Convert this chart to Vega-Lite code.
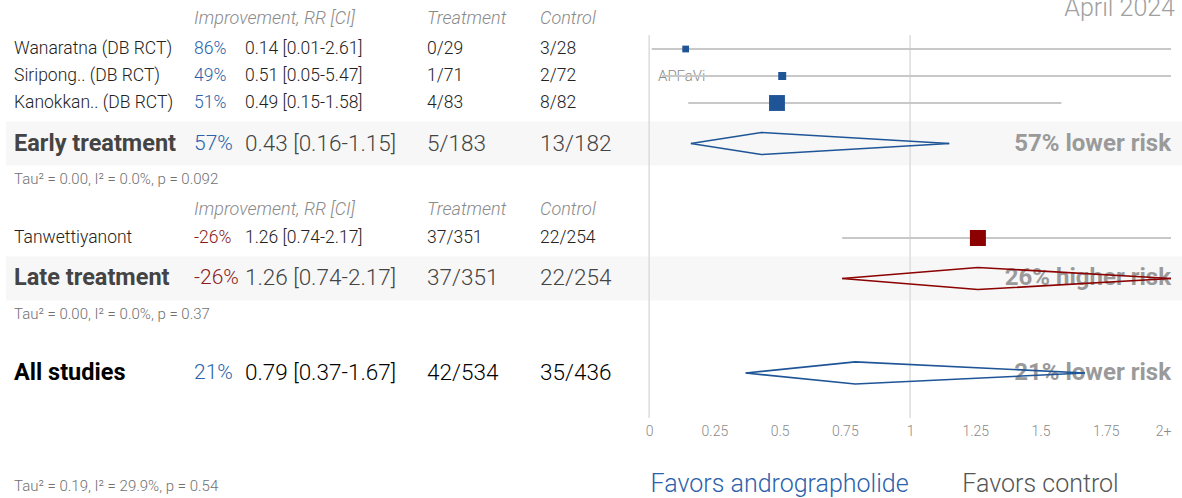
{
  "$schema": "https://vega.github.io/schema/vega-lite/v6.json",
  "width": 1171,
  "height": 498,
  "autosize": {"type": "none"},
  "padding": {"left": 0, "top": 0, "right": 11, "bottom": 0},
  "background": "white",
  "config": {"view": {"stroke": null}, "font": "Roboto", "text": {"font": "Roboto"}},
  "datasets": {
    "studies": [
      {"study": "Wanaratna (DB RCT)", "rr": 0.14, "lo": 0.01, "hi": 2.61, "treatment": "0/29", "control": "3/28", "weight": 12.5, "row": 1},
      {"study": "Siripong.. (DB RCT)", "rr": 0.51, "lo": 0.05, "hi": 5.47, "treatment": "1/71", "control": "2/72", "weight": 17.4, "row": 2},
      {"study": "Kanokkan.. (DB RCT)", "rr": 0.49, "lo": 0.15, "hi": 1.58, "treatment": "4/83", "control": "8/82", "weight": 69.1, "row": 3},
      {"study": "Tanwettiyanont", "rr": 1.26, "lo": 0.74, "hi": 2.17, "treatment": "37/351", "control": "22/254", "weight": 100, "row": 8}
    ],
    "groups": [
      {"group": "Early treatment", "rr": 0.43, "lo": 0.16, "hi": 1.15, "treatment": "5/183", "control": "13/182", "het": "Tau² = 0.00, I² = 0.0%, p = 0.092", "row": 4.5, "hetrow": 5.8},
      {"group": "Late treatment", "rr": 1.26, "lo": 0.74, "hi": 2.17, "treatment": "37/351", "control": "22/254", "het": "Tau² = 0.00, I² = 0.0%, p = 0.37", "row": 9.5, "hetrow": 10.8},
      {"group": "All studies", "rr": 0.79, "lo": 0.37, "hi": 1.67, "treatment": "42/534", "control": "35/436", "het": "Tau² = 0.19, I² = 29.9%, p = 0.54", "row": 13, "hetrow": 17.2}
    ],
    "headers": [
      {"section": "early", "row": -0.1},
      {"section": "late", "row": 6.95}
    ]
  },
  "layer": [
    {
      "description": "shaded bands behind the subgroup summary rows",
      "data": {"name": "groups"},
      "transform": [{"filter": "datum.group !== 'All studies'"}],
      "mark": {"type": "rule", "color": "#f7f7f7", "strokeWidth": 44, "strokeCap": "square"},
      "encoding": {
        "x": {"datum": -2.38, "type": "quantitative", "scale": {"domain": [-2.4877, 2], "nice": false, "zero": false, "clamp": true},
          "axis": {"values": [0, 0.25, 0.5, 0.75, 1, 1.25, 1.5, 1.75, 2], "labelExpr": "datum.value >= 2 ? '2+' : format(datum.value, '~g')", "grid": false, "domain": false, "ticks": false, "labelFont": "Roboto", "labelFontSize": 14, "labelFontWeight": 300, "labelColor": "#8a8a8a", "labelPadding": 6, "offset": -80, "title": null, "labelOverlap": false}},
        "x2": {"datum": 2},
        "y": {"field": "row", "type": "quantitative", "scale": {"domain": [-0.815, 17.63], "nice": false, "zero": false, "reverse": true}, "axis": null}
      }
    },
    {
      "description": "reference lines at RR 0 and RR 1",
      "data": {"values": [{"ref": 0}, {"ref": 1}]},
      "mark": {"type": "rule", "color": "#dcdcdc", "strokeWidth": 1.5},
      "encoding": {
        "x": {"field": "ref", "type": "quantitative", "scale": {"domain": [-2.4877, 2], "nice": false, "zero": false, "clamp": true},
          "axis": {"values": [0, 0.25, 0.5, 0.75, 1, 1.25, 1.5, 1.75, 2], "labelExpr": "datum.value >= 2 ? '2+' : format(datum.value, '~g')", "grid": false, "domain": false, "ticks": false, "labelFont": "Roboto", "labelFontSize": 14, "labelFontWeight": 300, "labelColor": "#8a8a8a", "labelPadding": 6, "offset": -80, "title": null, "labelOverlap": false}},
        "y": {"datum": 0.48, "type": "quantitative", "scale": {"domain": [-0.815, 17.63], "nice": false, "zero": false, "reverse": true}, "axis": null},
        "y2": {"datum": 14.67}
      }
    },
    {
      "description": "column headers",
      "data": {"name": "headers"},
      "encoding": {
        "y": {"field": "row", "type": "quantitative", "scale": {"domain": [-0.815, 17.63], "nice": false, "zero": false, "reverse": true}, "axis": null}
      },
      "layer": [
        {"mark": {"type": "text", "align": "left", "baseline": "middle", "fontSize": 18, "fontStyle": "italic", "fontWeight": 300, "color": "#8a8a8a"},
          "encoding": {"x": {"datum": -1.744, "type": "quantitative", "scale": {"domain": [-2.4877, 2], "nice": false, "zero": false, "clamp": true}, "axis": {"values": [0, 0.25, 0.5, 0.75, 1, 1.25, 1.5, 1.75, 2], "labelExpr": "datum.value >= 2 ? '2+' : format(datum.value, '~g')", "grid": false, "domain": false, "ticks": false, "labelFont": "Roboto", "labelFontSize": 14, "labelFontWeight": 300, "labelColor": "#8a8a8a", "labelPadding": 6, "offset": -80, "title": null, "labelOverlap": false}}, "text": {"value": "Improvement, RR [CI]"}}},
        {"mark": {"type": "text", "align": "left", "baseline": "middle", "fontSize": 18, "fontStyle": "italic", "fontWeight": 300, "color": "#8a8a8a"},
          "encoding": {"x": {"datum": -0.851, "type": "quantitative", "scale": {"domain": [-2.4877, 2], "nice": false, "zero": false, "clamp": true}, "axis": {"values": [0, 0.25, 0.5, 0.75, 1, 1.25, 1.5, 1.75, 2], "labelExpr": "datum.value >= 2 ? '2+' : format(datum.value, '~g')", "grid": false, "domain": false, "ticks": false, "labelFont": "Roboto", "labelFontSize": 14, "labelFontWeight": 300, "labelColor": "#8a8a8a", "labelPadding": 6, "offset": -80, "title": null, "labelOverlap": false}}, "text": {"value": "Treatment"}}},
        {"mark": {"type": "text", "align": "left", "baseline": "middle", "fontSize": 18, "fontStyle": "italic", "fontWeight": 300, "color": "#8a8a8a"},
          "encoding": {"x": {"datum": -0.418, "type": "quantitative", "scale": {"domain": [-2.4877, 2], "nice": false, "zero": false, "clamp": true}, "axis": {"values": [0, 0.25, 0.5, 0.75, 1, 1.25, 1.5, 1.75, 2], "labelExpr": "datum.value >= 2 ? '2+' : format(datum.value, '~g')", "grid": false, "domain": false, "ticks": false, "labelFont": "Roboto", "labelFontSize": 14, "labelFontWeight": 300, "labelColor": "#8a8a8a", "labelPadding": 6, "offset": -80, "title": null, "labelOverlap": false}}, "text": {"value": "Control"}}}
      ]
    },
    {
      "description": "study table rows",
      "data": {"name": "studies"},
      "transform": [
        {"calculate": "'' + round((1 - datum.rr) * 100) + '%'", "as": "improvement"},
        {"calculate": "format(datum.rr, '.2f') + ' [' + format(datum.lo, '.2f') + '-' + format(datum.hi, '.2f') + ']'", "as": "rrci"}
      ],
      "encoding": {
        "y": {"field": "row", "type": "quantitative", "scale": {"domain": [-0.815, 17.63], "nice": false, "zero": false, "reverse": true}, "axis": null}
      },
      "layer": [
        {"mark": {"type": "text", "align": "left", "baseline": "middle", "fontSize": 17.5, "fontWeight": 300, "color": "#222"},
          "encoding": {"x": {"datum": -2.434, "type": "quantitative", "scale": {"domain": [-2.4877, 2], "nice": false, "zero": false, "clamp": true}, "axis": {"values": [0, 0.25, 0.5, 0.75, 1, 1.25, 1.5, 1.75, 2], "labelExpr": "datum.value >= 2 ? '2+' : format(datum.value, '~g')", "grid": false, "domain": false, "ticks": false, "labelFont": "Roboto", "labelFontSize": 14, "labelFontWeight": 300, "labelColor": "#8a8a8a", "labelPadding": 6, "offset": -80, "title": null, "labelOverlap": false}}, "text": {"field": "study"}}},
        {"mark": {"type": "text", "align": "left", "baseline": "middle", "fontSize": 17.5, "fontWeight": 300},
          "encoding": {"x": {"datum": -1.744, "type": "quantitative", "scale": {"domain": [-2.4877, 2], "nice": false, "zero": false, "clamp": true}, "axis": {"values": [0, 0.25, 0.5, 0.75, 1, 1.25, 1.5, 1.75, 2], "labelExpr": "datum.value >= 2 ? '2+' : format(datum.value, '~g')", "grid": false, "domain": false, "ticks": false, "labelFont": "Roboto", "labelFontSize": 14, "labelFontWeight": 300, "labelColor": "#8a8a8a", "labelPadding": 6, "offset": -80, "title": null, "labelOverlap": false}}, "text": {"field": "improvement"},
          "color": {"condition": {"test": "datum.rr < 1", "value": "#2b62ab"}, "value": "#8b1a1a"}}},
        {"mark": {"type": "text", "align": "left", "baseline": "middle", "fontSize": 17.5, "fontWeight": 300, "color": "#222"},
          "encoding": {"x": {"datum": -1.549, "type": "quantitative", "scale": {"domain": [-2.4877, 2], "nice": false, "zero": false, "clamp": true}, "axis": {"values": [0, 0.25, 0.5, 0.75, 1, 1.25, 1.5, 1.75, 2], "labelExpr": "datum.value >= 2 ? '2+' : format(datum.value, '~g')", "grid": false, "domain": false, "ticks": false, "labelFont": "Roboto", "labelFontSize": 14, "labelFontWeight": 300, "labelColor": "#8a8a8a", "labelPadding": 6, "offset": -80, "title": null, "labelOverlap": false}}, "text": {"field": "rrci"}}},
        {"mark": {"type": "text", "align": "left", "baseline": "middle", "fontSize": 17.5, "fontWeight": 300, "color": "#222"},
          "encoding": {"x": {"datum": -0.851, "type": "quantitative", "scale": {"domain": [-2.4877, 2], "nice": false, "zero": false, "clamp": true}, "axis": {"values": [0, 0.25, 0.5, 0.75, 1, 1.25, 1.5, 1.75, 2], "labelExpr": "datum.value >= 2 ? '2+' : format(datum.value, '~g')", "grid": false, "domain": false, "ticks": false, "labelFont": "Roboto", "labelFontSize": 14, "labelFontWeight": 300, "labelColor": "#8a8a8a", "labelPadding": 6, "offset": -80, "title": null, "labelOverlap": false}}, "text": {"field": "treatment"}}},
        {"mark": {"type": "text", "align": "left", "baseline": "middle", "fontSize": 17.5, "fontWeight": 300, "color": "#222"},
          "encoding": {"x": {"datum": -0.418, "type": "quantitative", "scale": {"domain": [-2.4877, 2], "nice": false, "zero": false, "clamp": true}, "axis": {"values": [0, 0.25, 0.5, 0.75, 1, 1.25, 1.5, 1.75, 2], "labelExpr": "datum.value >= 2 ? '2+' : format(datum.value, '~g')", "grid": false, "domain": false, "ticks": false, "labelFont": "Roboto", "labelFontSize": 14, "labelFontWeight": 300, "labelColor": "#8a8a8a", "labelPadding": 6, "offset": -80, "title": null, "labelOverlap": false}}, "text": {"field": "control"}}}
      ]
    },
    {
      "description": "subgroup and overall summary rows",
      "data": {"name": "groups"},
      "transform": [
        {"calculate": "'' + round((1 - datum.rr) * 100) + '%'", "as": "improvement"},
        {"calculate": "format(datum.rr, '.2f') + ' [' + format(datum.lo, '.2f') + '-' + format(datum.hi, '.2f') + ']'", "as": "rrci"}
      ],
      "encoding": {
        "y": {"field": "row", "type": "quantitative", "scale": {"domain": [-0.815, 17.63], "nice": false, "zero": false, "reverse": true}, "axis": null},
        "color": {"condition": {"test": "datum.group === 'All studies'", "value": "#000"}, "value": "#444"}
      },
      "layer": [
        {"mark": {"type": "text", "align": "left", "baseline": "middle", "fontSize": 23.5, "fontWeight": "bold"},
          "encoding": {"x": {"datum": -2.434, "type": "quantitative", "scale": {"domain": [-2.4877, 2], "nice": false, "zero": false, "clamp": true}, "axis": {"values": [0, 0.25, 0.5, 0.75, 1, 1.25, 1.5, 1.75, 2], "labelExpr": "datum.value >= 2 ? '2+' : format(datum.value, '~g')", "grid": false, "domain": false, "ticks": false, "labelFont": "Roboto", "labelFontSize": 14, "labelFontWeight": 300, "labelColor": "#8a8a8a", "labelPadding": 6, "offset": -80, "title": null, "labelOverlap": false}}, "text": {"field": "group"}}},
        {"mark": {"type": "text", "align": "left", "baseline": "middle", "fontSize": 21, "fontWeight": 300},
          "encoding": {"x": {"datum": -1.744, "type": "quantitative", "scale": {"domain": [-2.4877, 2], "nice": false, "zero": false, "clamp": true}, "axis": {"values": [0, 0.25, 0.5, 0.75, 1, 1.25, 1.5, 1.75, 2], "labelExpr": "datum.value >= 2 ? '2+' : format(datum.value, '~g')", "grid": false, "domain": false, "ticks": false, "labelFont": "Roboto", "labelFontSize": 14, "labelFontWeight": 300, "labelColor": "#8a8a8a", "labelPadding": 6, "offset": -80, "title": null, "labelOverlap": false}}, "text": {"field": "improvement"},
          "color": {"condition": {"test": "datum.rr < 1", "value": "#2b62ab"}, "value": "#8b1a1a"}}},
        {"mark": {"type": "text", "align": "left", "baseline": "middle", "fontSize": 22.5, "fontWeight": 300},
          "encoding": {"x": {"datum": -1.549, "type": "quantitative", "scale": {"domain": [-2.4877, 2], "nice": false, "zero": false, "clamp": true}, "axis": {"values": [0, 0.25, 0.5, 0.75, 1, 1.25, 1.5, 1.75, 2], "labelExpr": "datum.value >= 2 ? '2+' : format(datum.value, '~g')", "grid": false, "domain": false, "ticks": false, "labelFont": "Roboto", "labelFontSize": 14, "labelFontWeight": 300, "labelColor": "#8a8a8a", "labelPadding": 6, "offset": -80, "title": null, "labelOverlap": false}}, "text": {"field": "rrci"}}},
        {"mark": {"type": "text", "align": "left", "baseline": "middle", "fontSize": 22.5, "fontWeight": 300},
          "encoding": {"x": {"datum": -0.851, "type": "quantitative", "scale": {"domain": [-2.4877, 2], "nice": false, "zero": false, "clamp": true}, "axis": {"values": [0, 0.25, 0.5, 0.75, 1, 1.25, 1.5, 1.75, 2], "labelExpr": "datum.value >= 2 ? '2+' : format(datum.value, '~g')", "grid": false, "domain": false, "ticks": false, "labelFont": "Roboto", "labelFontSize": 14, "labelFontWeight": 300, "labelColor": "#8a8a8a", "labelPadding": 6, "offset": -80, "title": null, "labelOverlap": false}}, "text": {"field": "treatment"}}},
        {"mark": {"type": "text", "align": "left", "baseline": "middle", "fontSize": 22.5, "fontWeight": 300},
          "encoding": {"x": {"datum": -0.418, "type": "quantitative", "scale": {"domain": [-2.4877, 2], "nice": false, "zero": false, "clamp": true}, "axis": {"values": [0, 0.25, 0.5, 0.75, 1, 1.25, 1.5, 1.75, 2], "labelExpr": "datum.value >= 2 ? '2+' : format(datum.value, '~g')", "grid": false, "domain": false, "ticks": false, "labelFont": "Roboto", "labelFontSize": 14, "labelFontWeight": 300, "labelColor": "#8a8a8a", "labelPadding": 6, "offset": -80, "title": null, "labelOverlap": false}}, "text": {"field": "control"}}}
      ]
    },
    {
      "description": "heterogeneity statistics under each summary",
      "data": {"name": "groups"},
      "mark": {"type": "text", "align": "left", "baseline": "middle", "fontSize": 15, "fontWeight": 300, "color": "#707070"},
      "encoding": {
        "x": {"datum": -2.434, "type": "quantitative", "scale": {"domain": [-2.4877, 2], "nice": false, "zero": false, "clamp": true}, "axis": {"values": [0, 0.25, 0.5, 0.75, 1, 1.25, 1.5, 1.75, 2], "labelExpr": "datum.value >= 2 ? '2+' : format(datum.value, '~g')", "grid": false, "domain": false, "ticks": false, "labelFont": "Roboto", "labelFontSize": 14, "labelFontWeight": 300, "labelColor": "#8a8a8a", "labelPadding": 6, "offset": -80, "title": null, "labelOverlap": false}},
        "y": {"field": "hetrow", "type": "quantitative", "scale": {"domain": [-0.815, 17.63], "nice": false, "zero": false, "reverse": true}, "axis": null},
        "text": {"field": "het"}
      }
    },
    {
      "description": "site label",
      "data": {"values": [{"label": "APFaVi"}]},
      "mark": {"type": "text", "align": "left", "baseline": "middle", "fontSize": 15, "fontWeight": 300, "color": "#8a8a8a"},
      "encoding": {
        "x": {"datum": 0.034, "type": "quantitative", "scale": {"domain": [-2.4877, 2], "nice": false, "zero": false, "clamp": true}, "axis": {"values": [0, 0.25, 0.5, 0.75, 1, 1.25, 1.5, 1.75, 2], "labelExpr": "datum.value >= 2 ? '2+' : format(datum.value, '~g')", "grid": false, "domain": false, "ticks": false, "labelFont": "Roboto", "labelFontSize": 14, "labelFontWeight": 300, "labelColor": "#8a8a8a", "labelPadding": 6, "offset": -80, "title": null, "labelOverlap": false}},
        "y": {"datum": 2, "type": "quantitative", "scale": {"domain": [-0.815, 17.63], "nice": false, "zero": false, "reverse": true}, "axis": null},
        "text": {"field": "label"}
      }
    },
    {
      "description": "confidence intervals of each study, cut at the axis end",
      "data": {"name": "studies"},
      "mark": {"type": "rule", "color": "#c8c8c8", "strokeWidth": 2},
      "encoding": {
        "x": {"field": "lo", "type": "quantitative", "scale": {"domain": [-2.4877, 2], "nice": false, "zero": false, "clamp": true}, "axis": {"values": [0, 0.25, 0.5, 0.75, 1, 1.25, 1.5, 1.75, 2], "labelExpr": "datum.value >= 2 ? '2+' : format(datum.value, '~g')", "grid": false, "domain": false, "ticks": false, "labelFont": "Roboto", "labelFontSize": 14, "labelFontWeight": 300, "labelColor": "#8a8a8a", "labelPadding": 6, "offset": -80, "title": null, "labelOverlap": false}},
        "x2": {"field": "hi"},
        "y": {"field": "row", "type": "quantitative", "scale": {"domain": [-0.815, 17.63], "nice": false, "zero": false, "reverse": true}, "axis": null}
      }
    },
    {
      "description": "study estimates, square area by weight",
      "data": {"name": "studies"},
      "mark": {"type": "point", "shape": "square", "filled": true, "opacity": 1},
      "encoding": {
        "x": {"field": "rr", "type": "quantitative", "scale": {"domain": [-2.4877, 2], "nice": false, "zero": false, "clamp": true}, "axis": {"values": [0, 0.25, 0.5, 0.75, 1, 1.25, 1.5, 1.75, 2], "labelExpr": "datum.value >= 2 ? '2+' : format(datum.value, '~g')", "grid": false, "domain": false, "ticks": false, "labelFont": "Roboto", "labelFontSize": 14, "labelFontWeight": 300, "labelColor": "#8a8a8a", "labelPadding": 6, "offset": -80, "title": null, "labelOverlap": false}},
        "y": {"field": "row", "type": "quantitative", "scale": {"domain": [-0.815, 17.63], "nice": false, "zero": false, "reverse": true}, "axis": null},
        "size": {"field": "weight", "type": "quantitative", "scale": {"domain": [0, 70], "range": [0, 256], "clamp": true}, "legend": null},
        "color": {"condition": {"test": "datum.rr < 1", "value": "#1f5597"}, "value": "#8b0000"}
      }
    },
    {
      "description": "summary verdict text",
      "data": {"name": "groups"},
      "transform": [
        {"calculate": "'' + abs(round((1 - datum.rr) * 100)) + '% ' + (datum.rr < 1 ? 'lower' : 'higher') + ' risk'", "as": "verdict"}
      ],
      "mark": {"type": "text", "align": "right", "baseline": "middle", "fontSize": 24, "fontWeight": "bold", "color": "#9a9a9a"},
      "encoding": {
        "x": {"datum": 2, "type": "quantitative", "scale": {"domain": [-2.4877, 2], "nice": false, "zero": false, "clamp": true}, "axis": {"values": [0, 0.25, 0.5, 0.75, 1, 1.25, 1.5, 1.75, 2], "labelExpr": "datum.value >= 2 ? '2+' : format(datum.value, '~g')", "grid": false, "domain": false, "ticks": false, "labelFont": "Roboto", "labelFontSize": 14, "labelFontWeight": 300, "labelColor": "#8a8a8a", "labelPadding": 6, "offset": -80, "title": null, "labelOverlap": false}},
        "y": {"field": "row", "type": "quantitative", "scale": {"domain": [-0.815, 17.63], "nice": false, "zero": false, "reverse": true}, "axis": null},
        "text": {"field": "verdict"}
      }
    },
    {
      "description": "summary diamonds: upper and lower outlines",
      "data": {"name": "groups"},
      "transform": [{"fold": ["lo", "rr", "hi"], "as": ["vertex", "value"]}],
      "encoding": {
        "x": {"field": "value", "type": "quantitative", "scale": {"domain": [-2.4877, 2], "nice": false, "zero": false, "clamp": true}, "axis": {"values": [0, 0.25, 0.5, 0.75, 1, 1.25, 1.5, 1.75, 2], "labelExpr": "datum.value >= 2 ? '2+' : format(datum.value, '~g')", "grid": false, "domain": false, "ticks": false, "labelFont": "Roboto", "labelFontSize": 14, "labelFontWeight": 300, "labelColor": "#8a8a8a", "labelPadding": 6, "offset": -80, "title": null, "labelOverlap": false}},
        "detail": {"field": "group"},
        "order": {"field": "value", "type": "quantitative"},
        "color": {"condition": {"test": "datum.rr < 1", "value": "#1f5597"}, "value": "#8b0000"}
      },
      "layer": [
        {
          "transform": [{"calculate": "datum.vertex === 'rr' ? datum.row - 0.41 : datum.row", "as": "edge"}],
          "mark": {"type": "line", "strokeWidth": 1.6},
          "encoding": {"y": {"field": "edge", "type": "quantitative", "scale": {"domain": [-0.815, 17.63], "nice": false, "zero": false, "reverse": true}, "axis": null}}
        },
        {
          "transform": [{"calculate": "datum.vertex === 'rr' ? datum.row + 0.41 : datum.row", "as": "edge"}],
          "mark": {"type": "line", "strokeWidth": 1.6},
          "encoding": {"y": {"field": "edge", "type": "quantitative", "scale": {"domain": [-0.815, 17.63], "nice": false, "zero": false, "reverse": true}, "axis": null}}
        }
      ]
    },
    {
      "description": "direction labels under the axis",
      "data": {"values": [{"side": "Favors andrographolide", "at": 0.5, "tone": "treatment"}, {"side": "Favors control", "at": 1.5, "tone": "control"}]},
      "mark": {"type": "text", "align": "center", "baseline": "middle", "fontSize": 25, "fontWeight": 300},
      "encoding": {
        "x": {"field": "at", "type": "quantitative", "scale": {"domain": [-2.4877, 2], "nice": false, "zero": false, "clamp": true}, "axis": {"values": [0, 0.25, 0.5, 0.75, 1, 1.25, 1.5, 1.75, 2], "labelExpr": "datum.value >= 2 ? '2+' : format(datum.value, '~g')", "grid": false, "domain": false, "ticks": false, "labelFont": "Roboto", "labelFontSize": 14, "labelFontWeight": 300, "labelColor": "#8a8a8a", "labelPadding": 6, "offset": -80, "title": null, "labelOverlap": false}},
        "y": {"datum": 17.11, "type": "quantitative", "scale": {"domain": [-0.815, 17.63], "nice": false, "zero": false, "reverse": true}, "axis": null},
        "text": {"field": "side"},
        "color": {"condition": {"test": "datum.tone === 'treatment'", "value": "#2b62ab"}, "value": "#555"}
      }
    },
    {
      "description": "date stamp",
      "data": {"values": [{"stamp": "April 2024"}]},
      "mark": {"type": "text", "align": "right", "baseline": "alphabetic", "fontSize": 25, "fontWeight": 300, "color": "#a0a0a0", "dx": 4},
      "encoding": {
        "x": {"datum": 2, "type": "quantitative", "scale": {"domain": [-2.4877, 2], "nice": false, "zero": false, "clamp": true}, "axis": {"values": [0, 0.25, 0.5, 0.75, 1, 1.25, 1.5, 1.75, 2], "labelExpr": "datum.value >= 2 ? '2+' : format(datum.value, '~g')", "grid": false, "domain": false, "ticks": false, "labelFont": "Roboto", "labelFontSize": 14, "labelFontWeight": 300, "labelColor": "#8a8a8a", "labelPadding": 6, "offset": -80, "title": null, "labelOverlap": false}},
        "y": {"datum": -0.22, "type": "quantitative", "scale": {"domain": [-0.815, 17.63], "nice": false, "zero": false, "reverse": true}, "axis": null},
        "text": {"field": "stamp"}
      }
    }
  ]
}
